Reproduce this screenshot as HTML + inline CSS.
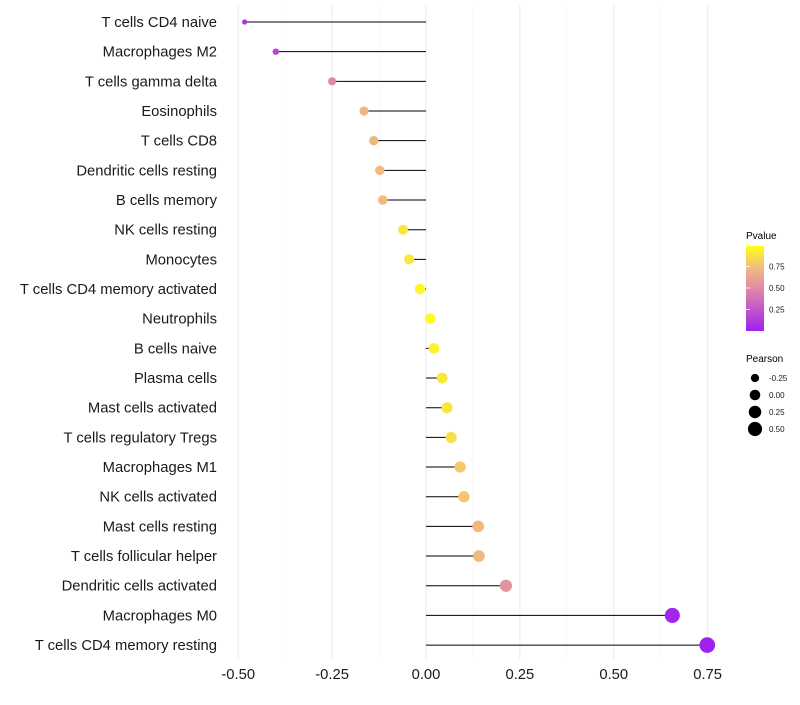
<!DOCTYPE html>
<html><head><meta charset="utf-8"><style>
body{margin:0;background:#fff;font-family:"Liberation Sans",sans-serif}
svg text{font-family:"Liberation Sans",sans-serif}
</style></head><body>
<svg id="chart" width="800" height="700" xmlns="http://www.w3.org/2000/svg">
<defs><linearGradient id="pg" x1="0" y1="1" x2="0" y2="0">
<stop offset="0" stop-color="#A020F0"/><stop offset="0.5" stop-color="#E08AA6"/><stop offset="0.75" stop-color="#F2BC7C"/><stop offset="1" stop-color="#FFFF1A"/></linearGradient></defs>
<g id="grid"></g><g id="marks"></g><g id="ylabels"></g><g id="xlabels"></g>
<g>
<text x="746" y="239" font-size="10">Pvalue</text>
<rect x="746" y="246" width="18" height="85" fill="url(#pg)"/>
<g id="cbticks"></g>
<text x="746" y="362" font-size="10">Pearson</text>
<g id="sizeleg"></g>
</g>
</svg>
<script>
const categories=["T cells CD4 naive","Macrophages M2","T cells gamma delta","Eosinophils","T cells CD8","Dendritic cells resting","B cells memory","NK cells resting","Monocytes","T cells CD4 memory activated","Neutrophils","B cells naive","Plasma cells","Mast cells activated","T cells regulatory  Tregs ","Macrophages M1","NK cells activated","Mast cells resting","T cells follicular helper","Dendritic cells activated","Macrophages M0","T cells CD4 memory resting"];
const pearson=[-0.483,-0.40,-0.25,-0.165,-0.139,-0.123,-0.115,-0.061,-0.045,-0.016,0.011,0.021,0.043,0.056,0.067,0.091,0.101,0.139,0.141,0.213,0.656,0.749];
const pvalue=[0.1,0.18,0.5,0.72,0.72,0.74,0.74,0.9,0.91,0.96,0.98,0.95,0.91,0.9,0.88,0.8,0.79,0.73,0.73,0.55,0.02,0.0];
const xTicks=[-0.5,-0.25,0,0.25,0.5,0.75];
const xTickLabels=["-0.50","-0.25","0.00","0.25","0.50","0.75"];
const cbTicks=[0.25,0.5,0.75];
const sizeLegend=[-0.25,0,0.25,0.5];
const NS="http://www.w3.org/2000/svg";
const X=v=>426+v*375.5;
const Y=i=>22+i*29.67;
const R=v=>Math.sqrt(Math.max(1,28+44*v));
function col(p){const s=[[0,[160,32,240]],[0.5,[224,138,166]],[0.75,[242,188,124]],[1,[255,255,26]]];
 for(let i=1;i<s.length;i++){if(p<=s[i][0]){const t=(p-s[i-1][0])/(s[i][0]-s[i-1][0]);const a=s[i-1][1],b=s[i][1];return `rgb(${a.map((c,k)=>Math.round(c+(b[k]-c)*t)).join(",")})`;}}return "rgb(255,255,26)";}
function mk(t,a,parent){const e=document.createElementNS(NS,t);for(const k in a)e.setAttribute(k,a[k]);document.getElementById(parent).appendChild(e);return e;}
for(let v=-0.5;v<=0.751;v+=0.125){const major=Math.abs(v/0.25-Math.round(v/0.25))<1e-6;
 const g=mk("line",{x1:X(v),x2:X(v),y1:5,y2:660,stroke:major?"#ebebeb":"#f5f5f5","stroke-width":major?1:0.6},"grid");
 
 }
categories.forEach((c,i)=>{
 const l=mk("line",{x1:X(0),x2:X(pearson[i]),y1:Y(i),y2:Y(i),stroke:"#000","stroke-width":1},"marks");
 
 
 const p=mk("circle",{cx:X(pearson[i]),cy:Y(i),r:R(pearson[i]),fill:col(pvalue[i])},"marks");
 
 
 const t=mk("text",{x:217,y:Y(i)+5,"font-size":14.8,"text-anchor":"end",fill:"#1a1a1a"},"ylabels");
 t.textContent=c;
 
 
});
xTicks.forEach((v,i)=>{const t=mk("text",{x:X(v),y:679,"font-size":14.8,"text-anchor":"middle",fill:"#1a1a1a"},"xlabels");
 t.textContent=xTickLabels[i];
 
 });
cbTicks.forEach(v=>{const y=331-v*86;
 const l=mk("line",{x1:746,x2:750,y1:y,y2:y,stroke:"#fff","stroke-width":0.8},"cbticks");
 
 
 const t=mk("text",{x:769,y:y+3,"font-size":8,fill:"#1a1a1a"},"cbticks");
 t.textContent=v.toFixed(2);
 
 });
sizeLegend.forEach((v,i)=>{const y=378+i*17;
 const c=mk("circle",{cx:755,cy:y,r:R(v),fill:"#000"},"sizeleg");
 
 
 const t=mk("text",{x:769,y:y+3,"font-size":8,fill:"#1a1a1a"},"sizeleg");
 t.textContent=v.toFixed(2);
 
 });
</script>
</body></html>
